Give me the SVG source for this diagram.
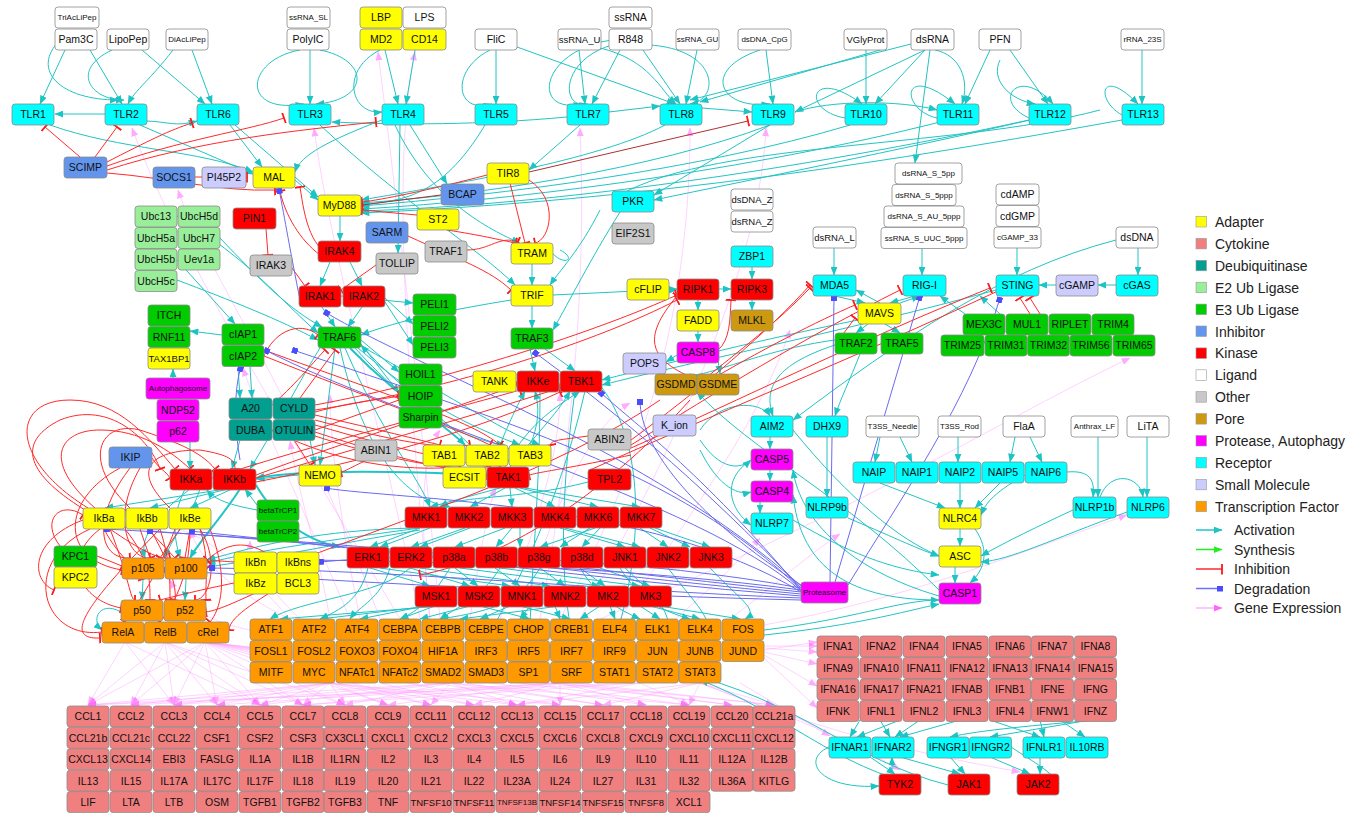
<svg xmlns="http://www.w3.org/2000/svg" width="1358" height="813" viewBox="0 0 1358 813">
<style>
.n rect{rx:3px;ry:3px;stroke:#8c8c8c;stroke-width:0.8}
.n text{font-family:"Liberation Sans",Arial,sans-serif;font-size:10.5px;text-anchor:middle;fill:#111}
.s text{font-size:8px}
.m text{font-size:9.5px}
.li rect{fill:#fff}
.ad rect{fill:#FFFF00}
.cy rect{fill:#F08080}
.db rect{fill:#009F8F}
.e2 rect{fill:#99EE99}
.e3 rect{fill:#00CC00}
.in rect{fill:#6495ED}
.ki rect{fill:#FF0000}
.ot rect{fill:#C8C8C8}
.po rect{fill:#CC9910}
.pr rect{fill:#FF00FF}
.rc rect{fill:#00FFFF}
.sm rect{fill:#CCCCFF}
.tf rect{fill:#FF9900}
.a{stroke:#22C4C4;stroke-width:1;fill:none;marker-end:url(#ma)}
.a2{stroke:#22C4C4;stroke-width:2;fill:none;marker-end:url(#ma)}
.i{stroke:#FF2A2A;stroke-width:1;fill:none;marker-end:url(#mi)}
.ir{stroke:#B03030;stroke-width:1;fill:none;marker-end:url(#mi)}
.d{stroke:#6A6AF0;stroke-width:1;fill:none;marker-end:url(#md)}
.g{stroke:#FF9CFF;stroke-width:0.8;fill:none;marker-end:url(#mg);opacity:0.55}
.lg text{font-family:"Liberation Sans",Arial,sans-serif;font-size:14px;fill:#222}
.lg rect{stroke:#999;stroke-width:0.6}
</style>
<defs>
<marker id="ma" viewBox="0 0 10 8" refX="9.5" refY="4" markerWidth="9" markerHeight="7" orient="auto" markerUnits="userSpaceOnUse"><path d="M0,0 L10,4 L0,8 z" fill="#1CC4C4"/></marker>
<marker id="mi" viewBox="0 0 4 12" refX="3" refY="6" markerWidth="4" markerHeight="11" orient="auto" markerUnits="userSpaceOnUse"><path d="M3,0 V12" stroke="#FF1A1A" stroke-width="2"/></marker>
<marker id="md" viewBox="0 0 6 6" refX="5" refY="3" markerWidth="6" markerHeight="6" orient="auto" markerUnits="userSpaceOnUse"><rect width="6" height="6" fill="#4C4CFF"/></marker>
<marker id="mg" viewBox="0 0 10 8" refX="9.5" refY="4" markerWidth="9" markerHeight="7" orient="auto" markerUnits="userSpaceOnUse"><path d="M0,0 L10,4 L0,8 z" fill="#FF66FF"/></marker>
<marker id="ms" viewBox="0 0 10 8" refX="9.5" refY="4" markerWidth="9" markerHeight="7" orient="auto" markerUnits="userSpaceOnUse"><path d="M0,0 L10,4 L0,8 z" fill="#22EE22"/></marker>
</defs>
<rect width="1358" height="813" fill="#fff"/>

<g id="connectors">
<g id="gene-expression">
<path class="g" d="M205 642 L88 705"/><path class="g" d="M205 642 L131 705"/><path class="g" d="M205 642 L174 705"/><path class="g" d="M205 642 L217 705"/><path class="g" d="M205 642 L260 705"/><path class="g" d="M205 642 L303 705"/><path class="g" d="M205 642 L345 705"/><path class="g" d="M205 642 L388 705"/><path class="g" d="M205 642 L431 705"/><path class="g" d="M205 642 L474 705"/><path class="g" d="M205 642 L517 705"/><path class="g" d="M205 642 L560 705"/><path class="g" d="M205 642 L603 705"/><path class="g" d="M205 642 L646 705"/><path class="g" d="M205 642 L689 705"/><path class="g" d="M205 642 L732 705"/><path class="g" d="M205 642 L774 705"/>
<path class="g" d="M165 642 L88 705"/><path class="g" d="M165 642 L131 705"/><path class="g" d="M165 642 L174 705"/><path class="g" d="M165 642 L217 705"/><path class="g" d="M165 642 L260 705"/><path class="g" d="M165 642 L303 705"/><path class="g" d="M165 642 L345 705"/><path class="g" d="M125 642 L88 705"/><path class="g" d="M125 642 L174 705"/><path class="g" d="M125 642 L260 705"/>
<path class="g" d="M330 683 L88 705"/><path class="g" d="M330 683 L131 705"/><path class="g" d="M330 683 L174 705"/><path class="g" d="M330 683 L217 705"/><path class="g" d="M330 683 L260 705"/><path class="g" d="M330 683 L303 705"/><path class="g" d="M330 683 L345 705"/><path class="g" d="M330 683 L388 705"/><path class="g" d="M330 683 L431 705"/><path class="g" d="M330 683 L474 705"/><path class="g" d="M330 683 L517 705"/><path class="g" d="M330 683 L560 705"/>
<path class="g" d="M450 683 L88 705"/><path class="g" d="M450 683 L174 705"/><path class="g" d="M450 683 L260 705"/><path class="g" d="M450 683 L345 705"/><path class="g" d="M450 683 L431 705"/><path class="g" d="M450 683 L517 705"/><path class="g" d="M450 683 L603 705"/><path class="g" d="M450 683 L689 705"/>
<path class="g" d="M560 683 L131 705"/><path class="g" d="M560 683 L217 705"/><path class="g" d="M560 683 L303 705"/><path class="g" d="M560 683 L388 705"/><path class="g" d="M560 683 L474 705"/><path class="g" d="M560 683 L560 705"/><path class="g" d="M560 683 L646 705"/><path class="g" d="M560 683 L732 705"/><path class="g" d="M560 683 L774 705"/>
<path class="g" d="M640 683 L88 705"/><path class="g" d="M640 683 L303 705"/><path class="g" d="M640 683 L517 705"/><path class="g" d="M640 683 L689 705"/>
<path class="g" d="M700 683 L603 705"/><path class="g" d="M700 683 L689 705"/><path class="g" d="M700 683 L774 705"/><path class="g" d="M700 683 L517 705"/>
<path class="g" d="M764 650 L817 642"/><path class="g" d="M764 652 L817 664"/><path class="g" d="M764 655 L817 686"/><path class="g" d="M764 658 L817 708"/><path class="g" d="M764 646 L817 646"/><path class="g" d="M764 648 L817 652"/><path class="g" d="M740 683 L830 736"/><path class="g" d="M700 683 C800 720,850 740,900 770"/><path class="g" d="M700 683 C820 730,900 750,1020 772"/>
<path class="g" d="M400 619 C300 450,180 260,132 128"/><path class="g" d="M420 619 C380 420,330 250,314 128"/><path class="g" d="M380 619 C300 400,200 260,178 190"/><path class="g" d="M430 619 C400 300,395 150,415 52"/><path class="g" d="M440 619 C410 300,390 150,378 52"/>
<path class="g" d="M540 619 C580 400,585 250,580 128"/><path class="g" d="M560 619 C650 450,690 300,690 128"/><path class="g" d="M580 619 C700 400,760 250,766 128"/><path class="g" d="M600 619 C880 500,1000 420,1130 358"/><path class="g" d="M764 625 C900 600,1000 560,1127 515"/><path class="g" d="M620 619 C700 500,760 420,790 330"/>
<path class="g" d="M300 619 C260 580,250 560,250 541"/><path class="g" d="M290 619 C230 590,200 560,190 530"/><path class="g" d="M290 619 C220 540,180 520,150 530"/><path class="g" d="M330 619 C320 560,300 500,290 441"/><path class="g" d="M350 619 C300 500,260 420,243 368"/><path class="g" d="M470 619 C480 550,490 500,496 488"/><path class="g" d="M500 619 C540 520,560 450,560 393"/><path class="g" d="M520 619 C560 480,600 420,630 403"/>
<path class="g" d="M700 640 C760 600,800 560,840 534"/><path class="g" d="M650 640 C700 600,740 560,760 538"/><path class="g" d="M250 630 C200 620,180 600,170 580"/><path class="g" d="M360 619 C340 520,330 440,330 395"/><path class="g" d="M430 619 C420 520,420 460,440 430"/>
</g>
<g id="activation">
<path class="a" d="M65 50 L40 104"/><path class="a" d="M90 50 L122 104"/><path class="a" d="M60 40 C30 70,60 100,118 100"/><path class="a" d="M112 50 C70 70,90 100,124 100"/><path class="a" d="M142 50 L205 104"/><path class="a" d="M192 50 L212 104"/><path class="a" d="M173 50 C150 80,135 90,128 104"/>
<path class="a" d="M310 50 L310 104"/><path class="a" d="M300 50 C245 60,240 115,304 104"/><path class="a" d="M320 50 C370 60,370 100,316 104"/>
<path class="a" d="M385 50 L398 104"/><path class="a" d="M415 50 L406 104"/><path class="a" d="M380 50 C340 70,350 115,382 112"/>
<path class="a" d="M496 50 L496 104"/><path class="a" d="M490 50 C450 70,455 115,492 104"/><path class="a" d="M517 47 L675 104"/>
<path class="a" d="M579 50 L585 104"/><path class="a" d="M620 50 L592 104"/><path class="a" d="M643 50 L680 104"/><path class="a" d="M697 50 L686 104"/><path class="a" d="M612 40 C540 50,530 115,582 104"/><path class="a" d="M612 45 C560 60,560 110,588 104"/><path class="a" d="M650 45 C720 50,720 100,690 104"/><path class="a" d="M600 48 C650 60,660 90,676 104"/>
<path class="a" d="M766 50 L773 104"/><path class="a" d="M760 50 C700 70,720 110,770 104"/><path class="a" d="M866 50 L866 104"/><path class="a" d="M925 50 L875 104"/><path class="a" d="M935 50 C960 55,970 80,962 104"/><path class="a" d="M990 50 L965 104"/><path class="a" d="M1010 50 L1048 104"/><path class="a" d="M911 44 L690 100"/><path class="a" d="M887 48 L700 102"/><path class="a" d="M925 50 L795 112"/><path class="a" d="M1142 50 L1142 104"/>
<path class="a" d="M845 118 C800 110,810 65,862 104"/><path class="a" d="M937 118 C900 110,900 60,955 104"/><path class="a" d="M1029 118 C990 100,1020 65,1053 104"/><path class="a" d="M1122 115 C1095 100,1100 65,1138 104"/><path class="a" d="M1000 60 C990 80,1010 100,1035 104"/>
<path class="a" d="M105 114 L55 114"/><path class="a" d="M147 121 C170 122,175 127,197 121"/><path class="a" d="M567 117 C480 125,400 125,332 122"/><path class="a" d="M609 112 L660 106"/><path class="a" d="M702 108 L752 112"/><path class="a" d="M795 112 C830 100,900 100,937 110"/>
<path class="a" d="M50 125 C120 150,200 150,253 172"/><path class="a" d="M140 125 L253 174"/><path class="a" d="M230 125 L262 167"/><path class="a" d="M235 125 L318 197"/><path class="a" d="M320 125 C400 200,480 250,515 285"/><path class="a" d="M382 120 C330 140,300 155,295 172"/><path class="a" d="M410 125 L447 184"/><path class="a" d="M400 125 L398 253"/><path class="a" d="M395 125 C430 200,490 230,520 243"/>
<path class="a" d="M485 125 C440 200,400 200,361 205"/><path class="a" d="M580 125 L529 170"/><path class="a" d="M665 125 C600 160,450 185,361 200"/><path class="a" d="M770 125 C650 170,480 195,361 203"/><path class="a" d="M850 125 C700 170,500 195,361 206"/><path class="a" d="M940 122 C750 170,520 200,361 209"/><path class="a" d="M1029 120 C800 170,550 205,361 211"/><path class="a" d="M1122 120 C900 160,650 200,361 213"/><path class="a" d="M770 125 L654 195"/><path class="a" d="M1030 120 C900 150,750 180,654 200"/><path class="a" d="M1100 110 C950 150,700 140,612 200"/><path class="a" d="M930 50 L915 163"/>
<path class="a" d="M295 180 L318 200"/><path class="a" d="M340 215 L340 241"/><path class="a" d="M330 262 L320 286"/><path class="a" d="M350 262 L362 286"/><path class="a" d="M322 307 L335 327"/><path class="a" d="M362 307 L348 327"/><path class="a" d="M341 296 L413 303"/><path class="a" d="M385 298 L413 324"/><path class="a" d="M385 302 L413 345"/><path class="a" d="M361 340 L399 372"/><path class="a" d="M361 344 L399 393"/>
<path class="a2" d="M350 348 C400 400,440 420,465 445"/><path class="a" d="M335 348 L320 465"/><path class="a" d="M177 216 C250 260,280 300,318 333"/><path class="a" d="M177 260 L235 324"/><path class="a" d="M177 280 C230 300,280 320,318 340"/><path class="a" d="M220 238 C260 280,290 310,322 327"/><path class="a" d="M222 335 L190 331"/><path class="a" d="M238 367 L240 398"/><path class="a" d="M250 367 L252 398"/><path class="a" d="M240 440 L232 469"/><path class="a" d="M173 378 L173 369"/><path class="a" d="M190 442 L190 469"/><path class="a" d="M310 440 L315 465"/>
<path class="a" d="M355 348 C420 420,470 440,505 445"/><path class="a" d="M358 348 C430 410,480 430,520 445"/><path class="a" d="M345 348 C380 430,420 480,430 507"/><path class="a" d="M340 348 C360 440,400 500,450 507"/><path class="a" d="M361 346 C440 390,500 430,540 445"/><path class="a" d="M320 348 C300 380,280 420,250 469"/>
<path class="a" d="M532 263 L532 285"/><path class="a" d="M532 306 L532 328"/><path class="a" d="M545 349 L575 371"/><path class="a" d="M530 349 L535 371"/><path class="a" d="M553 295 L677 289"/><path class="a" d="M511 300 C450 310,400 320,361 335"/><path class="a" d="M600 210 C580 250,560 270,550 285"/><path class="a" d="M620 212 C590 260,570 300,553 330"/><path class="a" d="M560 250 C580 260,560 270,545 243"/>
<path class="a" d="M585 391 C560 500,520 580,486 640"/><path class="a" d="M575 391 C560 500,560 580,573 640"/><path class="a" d="M540 391 C540 500,530 580,530 640"/><path class="a" d="M600 385 C650 450,640 560,615 640"/>
<path class="a" d="M500 488 L430 507"/><path class="a" d="M505 488 L470 507"/><path class="a" d="M510 488 L512 507"/><path class="a" d="M515 488 L555 507"/><path class="a" d="M520 488 L598 507"/><path class="a" d="M525 488 L640 507"/><path class="a2" d="M487 475 C380 470,300 470,256 478"/><path class="a" d="M490 466 C450 420,400 390,361 345"/><path class="a" d="M520 466 C540 430,540 410,535 391"/><path class="a" d="M500 445 C510 420,520 400,525 391"/><path class="a" d="M510 467 C540 430,560 410,570 391"/><path class="a" d="M505 467 C530 420,560 405,580 391"/>
<path class="a" d="M420 528 L370 547"/><path class="a" d="M465 528 L411 547"/><path class="a" d="M505 528 L455 547"/><path class="a" d="M512 528 L496 547"/><path class="a" d="M595 528 L540 547"/><path class="a" d="M600 528 L582 547"/><path class="a" d="M560 528 L625 547"/><path class="a" d="M640 528 L668 547"/><path class="a" d="M655 528 L710 547"/><path class="a" d="M588 482 C520 500,460 495,440 507"/><path class="a" d="M430 528 L380 547"/><path class="a" d="M470 528 L420 547"/><path class="a" d="M520 528 L520 547"/><path class="a" d="M590 528 L560 547"/><path class="a" d="M565 528 L640 547"/><path class="a" d="M650 528 L690 547"/>
<path class="a" d="M370 568 L430 586"/><path class="a" d="M455 568 L478 586"/><path class="a" d="M495 568 L520 586"/><path class="a" d="M540 568 L565 586"/><path class="a" d="M580 568 L605 586"/><path class="a" d="M600 568 L650 586"/><path class="a" d="M410 568 L470 586"/><path class="a" d="M380 568 L510 586"/><path class="a" d="M420 568 L550 586"/><path class="a" d="M460 568 L600 586"/><path class="a" d="M500 568 L640 586"/>
<path class="a" d="M435 606 L400 619"/><path class="a" d="M480 606 L530 619"/><path class="a" d="M520 606 L570 619"/><path class="a" d="M560 606 L460 619"/><path class="a" d="M610 606 L615 619"/><path class="a" d="M650 606 L700 619"/><path class="a" d="M368 568 C360 600,340 610,320 619"/><path class="a" d="M410 568 C380 595,300 600,270 619"/><path class="a" d="M625 568 C660 600,680 620,660 641"/><path class="a" d="M668 568 C700 610,720 625,700 641"/><path class="a" d="M710 568 C740 600,760 610,745 619"/><path class="a" d="M450 568 C430 600,420 610,400 619"/><path class="a" d="M540 568 C520 600,500 610,440 619"/><path class="a" d="M580 568 C600 600,620 610,640 619"/>
<path class="a" d="M425 606 L360 619"/><path class="a" d="M430 606 L320 619"/><path class="a" d="M440 606 L280 619"/><path class="a" d="M470 606 L420 619"/><path class="a" d="M510 606 L480 619"/><path class="a" d="M530 606 L520 619"/><path class="a" d="M555 606 L560 619"/><path class="a" d="M600 606 L580 619"/><path class="a" d="M640 606 L660 619"/><path class="a" d="M660 606 L740 619"/><path class="a" d="M390 568 C380 600,360 605,350 619"/><path class="a" d="M500 568 C480 600,460 605,440 619"/><path class="a" d="M620 568 C640 600,660 610,690 619"/>
<path class="a" d="M225 489 L105 508"/><path class="a" d="M228 489 L150 508"/><path class="a" d="M232 489 L190 508"/><path class="a" d="M185 489 C170 520,175 540,180 558"/><path class="a" d="M257 505 L245 489"/><path class="a" d="M257 510 C230 505,215 500,207 490"/><path class="a" d="M299 475 L256 479"/><path class="a2" d="M240 489 C220 520,200 540,190 558"/><path class="a2" d="M256 485 C270 510,300 540,340 547"/><path class="a" d="M190 489 C150 520,140 540,145 558"/><path class="a" d="M200 489 C190 520,170 540,165 558"/><path class="a" d="M420 528 C330 540,260 550,207 563"/><path class="a" d="M420 530 C330 545,260 560,207 567"/><path class="a" d="M415 528 C320 530,260 545,207 560"/>
<path class="a" d="M143 579 L142 600"/><path class="a" d="M186 579 L185 600"/><path class="a" d="M121 612 C100 600,90 620,102 630"/>
<path class="a" d="M835 296 L865 303"/><path class="a" d="M915 296 L890 303"/><path class="a" d="M868 324 L856 333"/><path class="a" d="M885 324 L900 333"/><path class="a" d="M858 320 C760 340,680 360,602 380"/><path class="a" d="M996 290 C850 330,700 360,602 385"/><path class="a" d="M1116 285 L1098 285"/><path class="a" d="M1056 285 L1039 285"/><path class="a" d="M1138 248 L1138 275"/><path class="a" d="M1116 240 C1000 270,900 340,793 420"/><path class="a" d="M834 248 L834 275"/><path class="a" d="M922 248 L922 275"/><path class="a" d="M1017 248 L1017 275"/><path class="a" d="M965 314 L940 296"/><path class="a" d="M1000 314 L980 296"/><path class="a" d="M880 303 L856 290"/><path class="a" d="M900 303 L920 296"/>
<path class="a" d="M752 267 L752 279"/><path class="a" d="M752 300 L752 310"/><path class="a" d="M698 300 L698 310"/><path class="a" d="M698 331 L698 342"/><path class="a" d="M718 360 L720 374"/><path class="a" d="M668 290 L677 290"/><path class="a" d="M677 355 L666 362"/><path class="a" d="M719 289 L731 289"/><path class="a" d="M835 340 C760 350,700 380,690 374"/><path class="a" d="M835 345 C790 360,760 380,773 416"/><path class="a" d="M860 354 C850 380,840 400,835 416"/>
<path class="a" d="M793 430 C850 500,900 540,939 556"/><path class="a" d="M770 437 L770 449"/><path class="a" d="M770 470 L770 481"/><path class="a" d="M760 502 L760 513"/><path class="a" d="M827 437 L827 497"/><path class="a" d="M751 460 C720 480,730 510,751 525"/><path class="a" d="M700 430 C720 400,760 400,770 416"/><path class="a" d="M700 440 C720 470,740 470,751 460"/><path class="a" d="M700 450 C720 490,740 495,751 492"/>
<path class="a" d="M880 483 L945 508"/><path class="a" d="M960 483 L960 508"/><path class="a" d="M1000 483 L975 508"/><path class="a" d="M960 529 L960 546"/><path class="a" d="M955 567 L955 583"/><path class="a" d="M975 529 C990 550,985 570,970 583"/><path class="a" d="M880 437 L875 462"/><path class="a" d="M900 437 L912 462"/><path class="a" d="M958 437 L958 462"/><path class="a" d="M1015 437 L1010 462"/><path class="a" d="M1030 437 L1042 462"/><path class="a" d="M1098 437 L1098 497"/><path class="a" d="M1147 437 L1147 497"/><path class="a" d="M1067 472 C1090 470,1095 480,1093 497"/><path class="a" d="M1100 497 C1110 470,1140 475,1143 497"/><path class="a" d="M1073 510 C1030 530,1000 545,981 556"/><path class="a" d="M1127 512 C1050 540,1010 560,981 562"/><path class="a" d="M1025 475 C990 495,985 505,981 515"/>
<path class="a" d="M939 590 C850 500,750 450,697 392"/><path class="a" d="M939 596 C850 570,800 520,793 470"/><path class="a" d="M939 600 C840 600,800 560,793 495"/><path class="a" d="M848 518 C900 540,920 550,939 556"/><path class="a" d="M793 520 C860 560,900 570,939 575"/>
<path class="a" d="M860 720 L850 737"/><path class="a" d="M880 720 L890 737"/><path class="a" d="M900 720 L857 737"/><path class="a" d="M920 720 L895 737"/><path class="a" d="M960 720 L900 737"/><path class="a" d="M1095 720 C1040 725,980 730,950 737"/><path class="a" d="M1090 720 L990 737"/><path class="a" d="M990 720 L1040 737"/><path class="a" d="M1060 720 L1085 737"/><path class="a" d="M1040 720 L1044 737"/>
<path class="a" d="M870 757 L895 774"/><path class="a" d="M900 757 L960 774"/><path class="a" d="M950 757 L965 774"/><path class="a" d="M990 757 L1030 774"/><path class="a" d="M1040 757 L1040 774"/><path class="a" d="M892 774 L892 757"/><path class="a" d="M948 785 C850 760,800 700,680 672"/><path class="a" d="M921 785 C840 770,780 710,700 680"/><path class="a" d="M829 747 C800 760,820 790,879 786"/><path class="a" d="M1011 747 C1030 760,1050 770,1059 784"/>
<path class="a" d="M764 630 C850 620,900 600,939 600"/><path class="a" d="M764 635 C860 625,910 610,939 604"/>
</g>
<g id="inhibition">
<path class="i" d="M80 157 L45 127"/><path class="i" d="M95 157 L117 127"/><path class="i" d="M105 163 C150 140,170 130,192 123"/><path class="i" d="M107 166 C180 140,250 130,284 118"/><path class="i" d="M107 170 C200 140,300 130,376 122"/><path class="i" d="M107 173 C170 178,220 192,275 190"/><path class="i" d="M195 177 L247 177"/>
<path class="ir" d="M529 172 L748 121"/><path class="i" d="M510 183 L525 243"/><path class="i" d="M487 175 C430 190,380 200,362 202"/><path class="ir" d="M441 195 L362 205"/><path class="i" d="M417 215 L362 210"/><path class="i" d="M447 230 C480 235,500 240,516 243"/><path class="i" d="M467 250 C490 250,500 235,518 242"/><path class="i" d="M408 236 C460 260,490 270,511 290"/><path class="i" d="M529 180 C560 200,550 240,535 243"/>
<path class="i" d="M266 229 L268 255"/><path class="i" d="M292 268 L305 286"/><path class="i" d="M376 265 L341 290"/><path class="i" d="M320 255 C300 240,285 215,280 191"/><path class="i" d="M340 262 C310 250,305 220,300 187"/>
<path class="i" d="M272 405 C300 380,315 360,325 350"/><path class="i" d="M300 398 L335 350"/><path class="i" d="M315 412 C360 400,380 400,399 396"/><path class="i" d="M315 430 L399 400"/><path class="i" d="M294 440 L310 465"/><path class="i" d="M260 367 C270 330,300 320,318 335"/>
<path class="i" d="M315 415 C380 430,420 440,440 445"/><path class="i" d="M315 420 C390 440,440 450,470 445"/><path class="i" d="M315 425 C400 450,450 460,490 467"/><path class="i" d="M315 432 C400 460,450 470,487 475"/><path class="i" d="M315 436 C420 470,470 470,500 467"/><path class="i" d="M272 430 C350 470,420 470,460 467"/>
<path class="i" d="M152 458 C160 470,165 470,170 478"/><path class="i" d="M120 468 C60 500,60 560,122 570"/><path class="i" d="M130 468 C90 520,100 560,130 558"/><path class="i" d="M140 468 C110 520,130 560,150 558"/>
<path class="i" d="M100 529 C60 560,80 600,121 608"/><path class="i" d="M104 529 C120 560,140 570,143 579"/><path class="i" d="M110 529 C140 550,160 560,170 558"/><path class="i" d="M140 529 L150 558"/><path class="i" d="M148 529 L175 558"/><path class="i" d="M190 529 L185 558"/><path class="i" d="M180 529 L160 558"/><path class="i" d="M90 529 C20 560,40 640,102 632"/><path class="i" d="M110 529 C130 580,130 600,135 600"/><path class="i" d="M150 529 C180 580,175 600,175 600"/><path class="i" d="M200 529 C220 560,210 600,195 600"/><path class="i" d="M85 510 C20 470,20 440,60 420 C110 400,150 440,160 469"/><path class="i" d="M95 508 C40 460,60 430,100 430 C140 430,170 450,190 469"/><path class="i" d="M234 562 C210 560,200 560,207 568"/><path class="i" d="M234 583 C200 590,180 595,160 600"/><path class="i" d="M277 583 C240 600,220 610,206 612"/><path class="i" d="M60 546 C40 520,60 500,83 515"/><path class="i" d="M97 556 L122 566"/>
<path class="i" d="M88 508 C10 460,10 400,70 400 C120 400,150 440,175 469"/><path class="i" d="M130 508 C80 460,100 420,140 430 C170 440,200 450,215 469"/><path class="i" d="M170 508 C130 470,150 450,200 450 C230 455,235 460,235 469"/><path class="i" d="M125 529 C150 560,150 580,150 600"/><path class="i" d="M160 529 C170 560,170 580,170 600"/><path class="i" d="M200 529 C210 560,205 580,206 600"/><path class="i" d="M175 529 C160 570,140 600,125 622"/><path class="i" d="M190 529 C190 580,170 610,160 622"/><path class="i" d="M210 529 C230 580,220 610,210 622"/><path class="i" d="M300 573 C260 600,230 615,229 630"/><path class="i" d="M277 560 C250 540,230 540,207 560"/><path class="i" d="M83 520 C30 540,30 580,54 590"/><path class="i" d="M160 529 C90 600,60 640,100 638"/>
<path class="i" d="M256 475 C350 440,450 410,517 385"/><path class="i" d="M256 478 C350 450,460 420,560 388"/><path class="i" d="M256 482 C370 460,480 430,560 392"/><path class="i" d="M212 478 C330 440,450 410,520 390"/><path class="i" d="M315 405 C450 380,600 330,677 295"/><path class="i" d="M315 410 C450 390,600 340,677 300"/><path class="i" d="M264 350 C400 400,470 420,500 445"/><path class="i" d="M264 356 C400 410,460 430,490 445"/>
<path class="i" d="M631 440 C700 390,770 330,810 285"/><path class="i" d="M631 445 C720 390,800 340,900 290"/><path class="i" d="M631 448 C740 400,860 340,990 288"/><path class="i" d="M590 470 C700 420,850 360,1000 290"/><path class="i" d="M697 385 C740 350,780 320,810 288"/><path class="i" d="M697 388 C760 350,820 320,855 305"/><path class="i" d="M1030 314 L1020 298"/><path class="i" d="M1040 314 L1030 298"/><path class="i" d="M835 345 L855 318"/><path class="i" d="M697 380 C650 360,640 340,677 296"/><path class="i" d="M718 350 C730 340,730 320,731 300"/>
<path class="i" d="M631 455 C560 470,550 470,529 475"/><path class="i" d="M588 436 C560 440,550 440,551 445"/><path class="i" d="M397 450 C360 460,350 470,341 472"/><path class="i" d="M660 400 C560 470,400 520,300 560"/><path class="i" d="M690 400 C600 500,500 560,420 575"/>
</g>
<g id="degradation">
<path class="d" d="M801 592 C600 570,400 545,105 529"/><path class="d" d="M801 594 C600 575,400 548,148 531"/><path class="d" d="M801 596 C600 580,400 552,190 531"/><path class="d" d="M801 598 C600 590,400 570,210 568"/><path class="d" d="M801 600 C600 595,400 585,164 570"/><path class="d" d="M801 590 C650 570,450 560,277 560"/><path class="d" d="M801 588 C650 560,450 550,319 562"/>
<path class="d" d="M830 582 L834 296"/><path class="d" d="M835 582 L920 296"/><path class="d" d="M848 585 C900 500,970 400,1000 298"/><path class="d" d="M801 585 C700 520,640 450,640 400"/>
<path class="d" d="M300 300 C290 250,285 220,279 189"/><path class="d" d="M801 588 C700 480,600 400,534 352"/><path class="d" d="M801 590 C700 470,630 420,600 392"/><path class="d" d="M801 592 C650 500,400 500,325 488"/><path class="d" d="M801 586 C650 450,420 370,325 312"/><path class="d" d="M801 590 C680 470,500 420,293 350"/><path class="d" d="M801 591 C700 500,400 420,265 350"/><path class="d" d="M240 460 C230 400,240 370,241 367"/><path class="d" d="M760 280 L740 289"/>
</g>
</g>

<g id="nodes">
<g id="TriAcLiPep" class="n li s"><rect x="55" y="7" width="44" height="21"/><text x="77" y="20.4">TriAcLiPep</text></g>
<g id="Pam3C" class="n li"><rect x="55" y="29" width="42" height="21"/><text x="76" y="43.3">Pam3C</text></g>
<g id="LipoPep" class="n li"><rect x="107" y="29" width="42" height="21"/><text x="128" y="43.3">LipoPep</text></g>
<g id="DiAcLiPep" class="n li s"><rect x="166" y="29" width="42" height="21"/><text x="187" y="42.4">DiAcLiPep</text></g>
<g id="ssRNA_SL" class="n li s"><rect x="287" y="7" width="43" height="21"/><text x="308.5" y="20.4">ssRNA_SL</text></g>
<g id="PolyIC" class="n li"><rect x="287" y="29" width="42" height="21"/><text x="308" y="43.3">PolyIC</text></g>
<g id="LBP" class="n ad"><rect x="360" y="7" width="42" height="21"/><text x="381" y="21.3">LBP</text></g>
<g id="LPS" class="n li"><rect x="403" y="7" width="43" height="21"/><text x="424.5" y="21.3">LPS</text></g>
<g id="MD2" class="n ad"><rect x="360" y="29" width="42" height="21"/><text x="381" y="43.3">MD2</text></g>
<g id="CD14" class="n ad"><rect x="403" y="29" width="43" height="21"/><text x="424.5" y="43.3">CD14</text></g>
<g id="FliC" class="n li"><rect x="475" y="29" width="42" height="21"/><text x="496" y="43.3">FliC</text></g>
<g id="ssRNA_U" class="n li m"><rect x="558" y="29" width="43" height="21"/><text x="579.5" y="43">ssRNA_U</text></g>
<g id="ssRNA" class="n li"><rect x="609" y="7" width="43" height="21"/><text x="630.5" y="21.3">ssRNA</text></g>
<g id="R848" class="n li"><rect x="609" y="29" width="43" height="21"/><text x="630.5" y="43.3">R848</text></g>
<g id="ssRNA_GU" class="n li s"><rect x="676" y="29" width="43" height="21"/><text x="697.5" y="42.4">ssRNA_GU</text></g>
<g id="dsDNA_CpG" class="n li s"><rect x="738" y="29" width="53" height="21"/><text x="764.5" y="42.4">dsDNA_CpG</text></g>
<g id="VGlyProt" class="n li m"><rect x="844" y="29" width="43" height="21"/><text x="865.5" y="43">VGlyProt</text></g>
<g id="dsRNA" class="n li"><rect x="911" y="29" width="43" height="21"/><text x="932.5" y="43.3">dsRNA</text></g>
<g id="PFN" class="n li"><rect x="979" y="29" width="42" height="21"/><text x="1000" y="43.3">PFN</text></g>
<g id="rRNA_23S" class="n li s"><rect x="1121" y="29" width="43" height="21"/><text x="1142.5" y="42.4">rRNA_23S</text></g>

<g id="TLR1" class="n rc"><rect x="12" y="104" width="42" height="21"/><text x="33" y="118.3">TLR1</text></g>
<g id="TLR2" class="n rc"><rect x="105" y="104" width="42" height="21"/><text x="126" y="118.3">TLR2</text></g>
<g id="TLR6" class="n rc"><rect x="197" y="104" width="42" height="21"/><text x="218" y="118.3">TLR6</text></g>
<g id="TLR3" class="n rc"><rect x="289" y="104" width="42" height="21"/><text x="310" y="118.3">TLR3</text></g>
<g id="TLR4" class="n rc"><rect x="382" y="104" width="42" height="21"/><text x="403" y="118.3">TLR4</text></g>
<g id="TLR5" class="n rc"><rect x="475" y="104" width="42" height="21"/><text x="496" y="118.3">TLR5</text></g>
<g id="TLR7" class="n rc"><rect x="567" y="104" width="42" height="21"/><text x="588" y="118.3">TLR7</text></g>
<g id="TLR8" class="n rc"><rect x="660" y="104" width="42" height="21"/><text x="681" y="118.3">TLR8</text></g>
<g id="TLR9" class="n rc"><rect x="752" y="104" width="42" height="21"/><text x="773" y="118.3">TLR9</text></g>
<g id="TLR10" class="n rc"><rect x="845" y="104" width="42" height="21"/><text x="866" y="118.3">TLR10</text></g>
<g id="TLR11" class="n rc"><rect x="937" y="104" width="42" height="21"/><text x="958" y="118.3">TLR11</text></g>
<g id="TLR12" class="n rc"><rect x="1029" y="104" width="42" height="21"/><text x="1050" y="118.3">TLR12</text></g>
<g id="TLR13" class="n rc"><rect x="1122" y="104" width="42" height="21"/><text x="1143" y="118.3">TLR13</text></g>

<g id="SCIMP" class="n in"><rect x="64" y="157" width="43" height="21"/><text x="85.5" y="171.3">SCIMP</text></g>
<g id="SOCS1" class="n in"><rect x="153" y="167" width="42" height="21"/><text x="174" y="181.3">SOCS1</text></g>
<g id="PI45P2" class="n sm"><rect x="202" y="167" width="44" height="21"/><text x="224" y="181.3">PI45P2</text></g>
<g id="MAL" class="n ad"><rect x="253" y="167" width="42" height="21"/><text x="274" y="181.3">MAL</text></g>
<g id="TIR8" class="n ad"><rect x="487" y="163" width="42" height="21"/><text x="508" y="177.3">TIR8</text></g>
<g id="BCAP" class="n in"><rect x="441" y="184" width="43" height="21"/><text x="462.5" y="198.3">BCAP</text></g>
<g id="PKR" class="n rc"><rect x="612" y="191" width="42" height="21"/><text x="633" y="205.3">PKR</text></g>
<g id="MyD88" class="n ad"><rect x="318" y="195" width="43" height="21"/><text x="339.5" y="209.3">MyD88</text></g>
<g id="dsDNA_Z" class="n li m"><rect x="731" y="189" width="42" height="21"/><text x="752" y="203">dsDNA_Z</text></g>
<g id="dsRNA_Z" class="n li m"><rect x="731" y="211" width="42" height="21"/><text x="752" y="225">dsRNA_Z</text></g>
<g id="ZBP1" class="n rc"><rect x="731" y="246" width="42" height="21"/><text x="752" y="260.3">ZBP1</text></g>
<g id="PIN1" class="n ki"><rect x="233" y="208" width="43" height="21"/><text x="254.5" y="222.3">PIN1</text></g>
<g id="ST2" class="n ad"><rect x="417" y="209" width="42" height="21"/><text x="438" y="223.3">ST2</text></g>
<g id="SARM" class="n in"><rect x="366" y="222" width="42" height="21"/><text x="387" y="236.3">SARM</text></g>
<g id="EIF2S1" class="n ot"><rect x="612" y="223" width="42" height="21"/><text x="633" y="237.3">EIF2S1</text></g>
<g id="TRAF1" class="n ot"><rect x="425" y="241" width="42" height="21"/><text x="446" y="255.3">TRAF1</text></g>
<g id="TRAM" class="n ad"><rect x="511" y="243" width="42" height="21"/><text x="532" y="257.3">TRAM</text></g>
<g id="IRAK4" class="n ki"><rect x="318" y="241" width="43" height="21"/><text x="339.5" y="255.3">IRAK4</text></g>
<g id="TOLLIP" class="n ot"><rect x="376" y="253" width="42" height="21"/><text x="397" y="267.3">TOLLIP</text></g>
<g id="IRAK3" class="n ot"><rect x="250" y="255" width="42" height="21"/><text x="271" y="269.3">IRAK3</text></g>
<g id="Ubc13" class="n e2"><rect x="135" y="206" width="42" height="21"/><text x="156" y="220.3">Ubc13</text></g>
<g id="UbcH5d" class="n e2"><rect x="178" y="206" width="42" height="21"/><text x="199" y="220.3">UbcH5d</text></g>
<g id="UbcH5a" class="n e2"><rect x="135" y="227.5" width="42" height="21"/><text x="156" y="241.8">UbcH5a</text></g>
<g id="UbcH7" class="n e2"><rect x="178" y="227.5" width="42" height="21"/><text x="199" y="241.8">UbcH7</text></g>
<g id="UbcH5b" class="n e2"><rect x="135" y="249" width="42" height="21"/><text x="156" y="263.3">UbcH5b</text></g>
<g id="Uev1a" class="n e2"><rect x="178" y="249" width="42" height="21"/><text x="199" y="263.3">Uev1a</text></g>
<g id="UbcH5c" class="n e2"><rect x="135" y="270.5" width="42" height="21"/><text x="156" y="284.8">UbcH5c</text></g>
<g id="IRAK1" class="n ki"><rect x="299" y="286" width="42" height="21"/><text x="320" y="300.3">IRAK1</text></g>
<g id="IRAK2" class="n ki"><rect x="343" y="286" width="42" height="21"/><text x="364" y="300.3">IRAK2</text></g>
<g id="TRIF" class="n ad"><rect x="511" y="285" width="42" height="21"/><text x="532" y="299.3">TRIF</text></g>
<g id="cFLIP" class="n ad"><rect x="627" y="279" width="42" height="21"/><text x="648" y="293.3">cFLIP</text></g>
<g id="RIPK1" class="n ki"><rect x="677" y="279" width="42" height="21"/><text x="698" y="293.3">RIPK1</text></g>
<g id="RIPK3" class="n ki"><rect x="731" y="279" width="42" height="21"/><text x="752" y="293.3">RIPK3</text></g>
<g id="PELI1" class="n e3"><rect x="413" y="294" width="43" height="21"/><text x="434.5" y="308.3">PELI1</text></g>
<g id="PELI2" class="n e3"><rect x="413" y="315.5" width="43" height="21"/><text x="434.5" y="329.8">PELI2</text></g>
<g id="PELI3" class="n e3"><rect x="413" y="337" width="43" height="21"/><text x="434.5" y="351.3">PELI3</text></g>
<g id="ITCH" class="n e3"><rect x="148" y="305" width="42" height="21"/><text x="169" y="319.3">ITCH</text></g>
<g id="RNF11" class="n e3"><rect x="148" y="326.5" width="42" height="21"/><text x="169" y="340.8">RNF11</text></g>
<g id="TAX1BP1" class="n ad m"><rect x="148" y="348" width="42" height="21"/><text x="169" y="362">TAX1BP1</text></g>
<g id="cIAP1" class="n e3"><rect x="222" y="324" width="42" height="21"/><text x="243" y="338.3">cIAP1</text></g>
<g id="cIAP2" class="n e3"><rect x="222" y="345.5" width="42" height="21"/><text x="243" y="359.8">cIAP2</text></g>
<g id="TRAF6" class="n e3"><rect x="318" y="327" width="43" height="21"/><text x="339.5" y="341.3">TRAF6</text></g>
<g id="TRAF3" class="n e3"><rect x="511" y="328" width="42" height="21"/><text x="532" y="342.3">TRAF3</text></g>
<g id="FADD" class="n ad"><rect x="677" y="310" width="42" height="21"/><text x="698" y="324.3">FADD</text></g>
<g id="MLKL" class="n po"><rect x="731" y="310" width="42" height="21"/><text x="752" y="324.3">MLKL</text></g>
<g id="CASP8" class="n pr"><rect x="677" y="342" width="42" height="21"/><text x="698" y="356.3">CASP8</text></g>
<g id="POPS" class="n sm"><rect x="623" y="353" width="43" height="21"/><text x="644.5" y="367.3">POPS</text></g>
<g id="HOIL1" class="n e3"><rect x="399" y="364" width="43" height="21"/><text x="420.5" y="378.3">HOIL1</text></g>
<g id="HOIP" class="n e3"><rect x="399" y="385.5" width="43" height="21"/><text x="420.5" y="399.8">HOIP</text></g>
<g id="Sharpin" class="n e3"><rect x="399" y="407" width="43" height="21"/><text x="420.5" y="421.3">Sharpin</text></g>
<g id="TANK" class="n ad"><rect x="473" y="371" width="43" height="21"/><text x="494.5" y="385.3">TANK</text></g>
<g id="IKKe" class="n ki"><rect x="517" y="371" width="42" height="21"/><text x="538" y="385.3">IKKe</text></g>
<g id="TBK1" class="n ki"><rect x="560" y="371" width="42" height="21"/><text x="581" y="385.3">TBK1</text></g>
<g id="GSDMD" class="n po"><rect x="655" y="374" width="42" height="21"/><text x="676" y="388.3">GSDMD</text></g>
<g id="GSDME" class="n po"><rect x="697" y="374" width="42" height="21"/><text x="718" y="388.3">GSDME</text></g>
<g id="Autophagosome" class="n pr s"><rect x="146" y="378" width="64" height="21"/><text x="178" y="391.4">Autophagosome</text></g>
<g id="NDP52" class="n pr"><rect x="157" y="399.5" width="42" height="21"/><text x="178" y="413.8">NDP52</text></g>
<g id="p62" class="n pr"><rect x="157" y="421" width="42" height="21"/><text x="178" y="435.3">p62</text></g>
<g id="A20" class="n db"><rect x="229" y="398" width="43" height="21"/><text x="250.5" y="412.3">A20</text></g>
<g id="CYLD" class="n db"><rect x="273" y="398" width="42" height="21"/><text x="294" y="412.3">CYLD</text></g>
<g id="DUBA" class="n db"><rect x="229" y="419.5" width="43" height="21"/><text x="250.5" y="433.8">DUBA</text></g>
<g id="OTULIN" class="n db"><rect x="273" y="419.5" width="42" height="21"/><text x="294" y="433.8">OTULIN</text></g>
<g id="K_ion" class="n sm"><rect x="653" y="415" width="43" height="21"/><text x="674.5" y="429.3">K_ion</text></g>
<g id="ABIN2" class="n ot"><rect x="588" y="429" width="43" height="21"/><text x="609.5" y="443.3">ABIN2</text></g>
<g id="ABIN1" class="n ot"><rect x="355" y="440" width="42" height="21"/><text x="376" y="454.3">ABIN1</text></g>
<g id="TAB1" class="n ad"><rect x="423" y="445" width="42" height="21"/><text x="444" y="459.3">TAB1</text></g>
<g id="TAB2" class="n ad"><rect x="466" y="445" width="42" height="21"/><text x="487" y="459.3">TAB2</text></g>
<g id="TAB3" class="n ad"><rect x="509" y="445" width="42" height="21"/><text x="530" y="459.3">TAB3</text></g>
<g id="ECSIT" class="n ad"><rect x="443" y="467" width="43" height="21"/><text x="464.5" y="481.3">ECSIT</text></g>
<g id="TAK1" class="n ki"><rect x="487" y="467" width="42" height="21"/><text x="508" y="481.3">TAK1</text></g>
<g id="TPL2" class="n ki"><rect x="588" y="469" width="43" height="21"/><text x="609.5" y="483.3">TPL2</text></g>
<g id="IKIP" class="n in"><rect x="109" y="447" width="43" height="21"/><text x="130.5" y="461.3">IKIP</text></g>
<g id="IKKa" class="n ki"><rect x="170" y="469" width="42" height="21"/><text x="191" y="483.3">IKKa</text></g>
<g id="IKKb" class="n ki"><rect x="213" y="469" width="43" height="21"/><text x="234.5" y="483.3">IKKb</text></g>
<g id="NEMO" class="n ad"><rect x="299" y="465" width="42" height="21"/><text x="320" y="479.3">NEMO</text></g>
<g id="betaTrCP1" class="n e3 s"><rect x="257" y="500" width="42" height="21"/><text x="278" y="513.4">betaTrCP1</text></g>
<g id="betaTrCP2" class="n e3 s"><rect x="257" y="521" width="42" height="21"/><text x="278" y="534.4">betaTrCP2</text></g>
<g id="IkBa" class="n ad"><rect x="83" y="508" width="42" height="21"/><text x="104" y="522.3">IkBa</text></g>
<g id="IkBb" class="n ad"><rect x="126" y="508" width="42" height="21"/><text x="147" y="522.3">IkBb</text></g>
<g id="IkBe" class="n ad"><rect x="169" y="508" width="42" height="21"/><text x="190" y="522.3">IkBe</text></g>
<g id="KPC1" class="n e3"><rect x="54" y="546" width="43" height="21"/><text x="75.5" y="560.3">KPC1</text></g>
<g id="KPC2" class="n ad"><rect x="54" y="567" width="43" height="21"/><text x="75.5" y="581.3">KPC2</text></g>
<g id="p105" class="n tf"><rect x="122" y="558" width="42" height="21"/><text x="143" y="572.3">p105</text></g>
<g id="p100" class="n tf"><rect x="165" y="558" width="42" height="21"/><text x="186" y="572.3">p100</text></g>
<g id="p50" class="n tf"><rect x="121" y="600" width="42" height="21"/><text x="142" y="614.3">p50</text></g>
<g id="p52" class="n tf"><rect x="164" y="600" width="42" height="21"/><text x="185" y="614.3">p52</text></g>
<g id="RelA" class="n tf"><rect x="102" y="622" width="42" height="21"/><text x="123" y="636.3">RelA</text></g>
<g id="RelB" class="n tf"><rect x="144.5" y="622" width="42" height="21"/><text x="165.5" y="636.3">RelB</text></g>
<g id="cRel" class="n tf"><rect x="187" y="622" width="42" height="21"/><text x="208" y="636.3">cRel</text></g>
<g id="IkBn" class="n ad"><rect x="234" y="552" width="43" height="21"/><text x="255.5" y="566.3">IkBn</text></g>
<g id="IkBns" class="n ad"><rect x="277" y="552" width="42" height="21"/><text x="298" y="566.3">IkBns</text></g>
<g id="IkBz" class="n ad"><rect x="234" y="573" width="43" height="21"/><text x="255.5" y="587.3">IkBz</text></g>
<g id="BCL3" class="n ad"><rect x="277" y="573" width="42" height="21"/><text x="298" y="587.3">BCL3</text></g>

<g id="MKK1" class="n ki"><rect x="405" y="507" width="42" height="21"/><text x="426" y="521.3">MKK1</text></g>
<g id="MKK2" class="n ki"><rect x="448" y="507" width="42" height="21"/><text x="469" y="521.3">MKK2</text></g>
<g id="MKK3" class="n ki"><rect x="491" y="507" width="42" height="21"/><text x="512" y="521.3">MKK3</text></g>
<g id="MKK4" class="n ki"><rect x="534" y="507" width="42" height="21"/><text x="555" y="521.3">MKK4</text></g>
<g id="MKK6" class="n ki"><rect x="577" y="507" width="42" height="21"/><text x="598" y="521.3">MKK6</text></g>
<g id="MKK7" class="n ki"><rect x="620" y="507" width="42" height="21"/><text x="641" y="521.3">MKK7</text></g>
<g id="ERK1" class="n ki"><rect x="347" y="547" width="42" height="21"/><text x="368" y="561.3">ERK1</text></g>
<g id="ERK2" class="n ki"><rect x="390" y="547" width="42" height="21"/><text x="411" y="561.3">ERK2</text></g>
<g id="p38a" class="n ki"><rect x="433" y="547" width="42" height="21"/><text x="454" y="561.3">p38a</text></g>
<g id="p38b" class="n ki"><rect x="475.5" y="547" width="42" height="21"/><text x="496.5" y="561.3">p38b</text></g>
<g id="p38g" class="n ki"><rect x="518" y="547" width="42" height="21"/><text x="539" y="561.3">p38g</text></g>
<g id="p38d" class="n ki"><rect x="561" y="547" width="42" height="21"/><text x="582" y="561.3">p38d</text></g>
<g id="JNK1" class="n ki"><rect x="604" y="547" width="42" height="21"/><text x="625" y="561.3">JNK1</text></g>
<g id="JNK2" class="n ki"><rect x="647" y="547" width="42" height="21"/><text x="668" y="561.3">JNK2</text></g>
<g id="JNK3" class="n ki"><rect x="690" y="547" width="42" height="21"/><text x="711" y="561.3">JNK3</text></g>
<g id="MSK1" class="n ki"><rect x="415" y="586" width="42" height="21"/><text x="436" y="600.3">MSK1</text></g>
<g id="MSK2" class="n ki"><rect x="458" y="586" width="42" height="21"/><text x="479" y="600.3">MSK2</text></g>
<g id="MNK1" class="n ki"><rect x="501" y="586" width="42" height="21"/><text x="522" y="600.3">MNK1</text></g>
<g id="MNK2" class="n ki"><rect x="544" y="586" width="42" height="21"/><text x="565" y="600.3">MNK2</text></g>
<g id="MK2" class="n ki"><rect x="587" y="586" width="42" height="21"/><text x="608" y="600.3">MK2</text></g>
<g id="MK3" class="n ki"><rect x="629.5" y="586" width="42" height="21"/><text x="650.5" y="600.3">MK3</text></g>

<g id="ATF1" class="n tf"><rect x="250" y="619" width="42" height="21"/><text x="271" y="633.3">ATF1</text></g>
<g id="ATF2" class="n tf"><rect x="293" y="619" width="42" height="21"/><text x="314" y="633.3">ATF2</text></g>
<g id="ATF4" class="n tf"><rect x="336" y="619" width="42" height="21"/><text x="357" y="633.3">ATF4</text></g>
<g id="CEBPA" class="n tf"><rect x="379" y="619" width="42" height="21"/><text x="400" y="633.3">CEBPA</text></g>
<g id="CEBPB" class="n tf"><rect x="422" y="619" width="42" height="21"/><text x="443" y="633.3">CEBPB</text></g>
<g id="CEBPE" class="n tf"><rect x="465" y="619" width="42" height="21"/><text x="486" y="633.3">CEBPE</text></g>
<g id="CHOP" class="n tf"><rect x="507.5" y="619" width="42" height="21"/><text x="528.5" y="633.3">CHOP</text></g>
<g id="CREB1" class="n tf"><rect x="550.5" y="619" width="42" height="21"/><text x="571.5" y="633.3">CREB1</text></g>
<g id="ELF4" class="n tf"><rect x="593.5" y="619" width="42" height="21"/><text x="614.5" y="633.3">ELF4</text></g>
<g id="ELK1" class="n tf"><rect x="636.5" y="619" width="42" height="21"/><text x="657.5" y="633.3">ELK1</text></g>
<g id="ELK4" class="n tf"><rect x="679" y="619" width="42" height="21"/><text x="700" y="633.3">ELK4</text></g>
<g id="FOS" class="n tf"><rect x="722" y="619" width="42" height="21"/><text x="743" y="633.3">FOS</text></g>
<g id="FOSL1" class="n tf"><rect x="250" y="640.5" width="42" height="21"/><text x="271" y="654.8">FOSL1</text></g>
<g id="FOSL2" class="n tf"><rect x="293" y="640.5" width="42" height="21"/><text x="314" y="654.8">FOSL2</text></g>
<g id="FOXO3" class="n tf"><rect x="336" y="640.5" width="42" height="21"/><text x="357" y="654.8">FOXO3</text></g>
<g id="FOXO4" class="n tf"><rect x="379" y="640.5" width="42" height="21"/><text x="400" y="654.8">FOXO4</text></g>
<g id="HIF1A" class="n tf"><rect x="422" y="640.5" width="42" height="21"/><text x="443" y="654.8">HIF1A</text></g>
<g id="IRF3" class="n tf"><rect x="465" y="640.5" width="42" height="21"/><text x="486" y="654.8">IRF3</text></g>
<g id="IRF5" class="n tf"><rect x="507.5" y="640.5" width="42" height="21"/><text x="528.5" y="654.8">IRF5</text></g>
<g id="IRF7" class="n tf"><rect x="550.5" y="640.5" width="42" height="21"/><text x="571.5" y="654.8">IRF7</text></g>
<g id="IRF9" class="n tf"><rect x="593.5" y="640.5" width="42" height="21"/><text x="614.5" y="654.8">IRF9</text></g>
<g id="JUN" class="n tf"><rect x="636.5" y="640.5" width="42" height="21"/><text x="657.5" y="654.8">JUN</text></g>
<g id="JUNB" class="n tf"><rect x="679" y="640.5" width="42" height="21"/><text x="700" y="654.8">JUNB</text></g>
<g id="JUND" class="n tf"><rect x="722" y="640.5" width="42" height="21"/><text x="743" y="654.8">JUND</text></g>
<g id="MITF" class="n tf"><rect x="250" y="662" width="42" height="21"/><text x="271" y="676.3">MITF</text></g>
<g id="MYC" class="n tf"><rect x="293" y="662" width="42" height="21"/><text x="314" y="676.3">MYC</text></g>
<g id="NFATc1" class="n tf"><rect x="336" y="662" width="42" height="21"/><text x="357" y="676.3">NFATc1</text></g>
<g id="NFATc2" class="n tf"><rect x="379" y="662" width="42" height="21"/><text x="400" y="676.3">NFATc2</text></g>
<g id="SMAD2" class="n tf"><rect x="422" y="662" width="42" height="21"/><text x="443" y="676.3">SMAD2</text></g>
<g id="SMAD3" class="n tf"><rect x="465" y="662" width="42" height="21"/><text x="486" y="676.3">SMAD3</text></g>
<g id="SP1" class="n tf"><rect x="507.5" y="662" width="42" height="21"/><text x="528.5" y="676.3">SP1</text></g>
<g id="SRF" class="n tf"><rect x="550.5" y="662" width="42" height="21"/><text x="571.5" y="676.3">SRF</text></g>
<g id="STAT1" class="n tf"><rect x="593.5" y="662" width="42" height="21"/><text x="614.5" y="676.3">STAT1</text></g>
<g id="STAT2" class="n tf"><rect x="636.5" y="662" width="42" height="21"/><text x="657.5" y="676.3">STAT2</text></g>
<g id="STAT3" class="n tf"><rect x="679" y="662" width="42" height="21"/><text x="700" y="676.3">STAT3</text></g>

<g id="CCL1" class="n cy"><rect x="67" y="706" width="42" height="21"/><text x="88" y="720.3">CCL1</text></g>
<g id="CCL2" class="n cy"><rect x="110" y="706" width="42" height="21"/><text x="131" y="720.3">CCL2</text></g>
<g id="CCL3" class="n cy"><rect x="153" y="706" width="42" height="21"/><text x="174" y="720.3">CCL3</text></g>
<g id="CCL4" class="n cy"><rect x="196" y="706" width="42" height="21"/><text x="217" y="720.3">CCL4</text></g>
<g id="CCL5" class="n cy"><rect x="239" y="706" width="42" height="21"/><text x="260" y="720.3">CCL5</text></g>
<g id="CCL7" class="n cy"><rect x="282" y="706" width="42" height="21"/><text x="303" y="720.3">CCL7</text></g>
<g id="CCL8" class="n cy"><rect x="324" y="706" width="42" height="21"/><text x="345" y="720.3">CCL8</text></g>
<g id="CCL9" class="n cy"><rect x="367" y="706" width="42" height="21"/><text x="388" y="720.3">CCL9</text></g>
<g id="CCL11" class="n cy"><rect x="410" y="706" width="42" height="21"/><text x="431" y="720.3">CCL11</text></g>
<g id="CCL12" class="n cy"><rect x="453" y="706" width="42" height="21"/><text x="474" y="720.3">CCL12</text></g>
<g id="CCL13" class="n cy"><rect x="496" y="706" width="42" height="21"/><text x="517" y="720.3">CCL13</text></g>
<g id="CCL15" class="n cy"><rect x="539" y="706" width="42" height="21"/><text x="560" y="720.3">CCL15</text></g>
<g id="CCL17" class="n cy"><rect x="582" y="706" width="42" height="21"/><text x="603" y="720.3">CCL17</text></g>
<g id="CCL18" class="n cy"><rect x="625" y="706" width="42" height="21"/><text x="646" y="720.3">CCL18</text></g>
<g id="CCL19" class="n cy"><rect x="668" y="706" width="42" height="21"/><text x="689" y="720.3">CCL19</text></g>
<g id="CCL20" class="n cy"><rect x="711" y="706" width="42" height="21"/><text x="732" y="720.3">CCL20</text></g>
<g id="CCL21a" class="n cy"><rect x="753" y="706" width="42" height="21"/><text x="774" y="720.3">CCL21a</text></g>
<g id="CCL21b" class="n cy"><rect x="67" y="727.4" width="42" height="21"/><text x="88" y="741.7">CCL21b</text></g>
<g id="CCL21c" class="n cy"><rect x="110" y="727.4" width="42" height="21"/><text x="131" y="741.7">CCL21c</text></g>
<g id="CCL22" class="n cy"><rect x="153" y="727.4" width="42" height="21"/><text x="174" y="741.7">CCL22</text></g>
<g id="CSF1" class="n cy"><rect x="196" y="727.4" width="42" height="21"/><text x="217" y="741.7">CSF1</text></g>
<g id="CSF2" class="n cy"><rect x="239" y="727.4" width="42" height="21"/><text x="260" y="741.7">CSF2</text></g>
<g id="CSF3" class="n cy"><rect x="282" y="727.4" width="42" height="21"/><text x="303" y="741.7">CSF3</text></g>
<g id="CX3CL1" class="n cy"><rect x="324" y="727.4" width="42" height="21"/><text x="345" y="741.7">CX3CL1</text></g>
<g id="CXCL1" class="n cy"><rect x="367" y="727.4" width="42" height="21"/><text x="388" y="741.7">CXCL1</text></g>
<g id="CXCL2" class="n cy"><rect x="410" y="727.4" width="42" height="21"/><text x="431" y="741.7">CXCL2</text></g>
<g id="CXCL3" class="n cy"><rect x="453" y="727.4" width="42" height="21"/><text x="474" y="741.7">CXCL3</text></g>
<g id="CXCL5" class="n cy"><rect x="496" y="727.4" width="42" height="21"/><text x="517" y="741.7">CXCL5</text></g>
<g id="CXCL6" class="n cy"><rect x="539" y="727.4" width="42" height="21"/><text x="560" y="741.7">CXCL6</text></g>
<g id="CXCL8" class="n cy"><rect x="582" y="727.4" width="42" height="21"/><text x="603" y="741.7">CXCL8</text></g>
<g id="CXCL9" class="n cy"><rect x="625" y="727.4" width="42" height="21"/><text x="646" y="741.7">CXCL9</text></g>
<g id="CXCL10" class="n cy"><rect x="668" y="727.4" width="42" height="21"/><text x="689" y="741.7">CXCL10</text></g>
<g id="CXCL11" class="n cy"><rect x="711" y="727.4" width="42" height="21"/><text x="732" y="741.7">CXCL11</text></g>
<g id="CXCL12" class="n cy"><rect x="753" y="727.4" width="42" height="21"/><text x="774" y="741.7">CXCL12</text></g>
<g id="CXCL13" class="n cy"><rect x="67" y="748.8" width="42" height="21"/><text x="88" y="763.1">CXCL13</text></g>
<g id="CXCL14" class="n cy"><rect x="110" y="748.8" width="42" height="21"/><text x="131" y="763.1">CXCL14</text></g>
<g id="EBI3" class="n cy"><rect x="153" y="748.8" width="42" height="21"/><text x="174" y="763.1">EBI3</text></g>
<g id="FASLG" class="n cy"><rect x="196" y="748.8" width="42" height="21"/><text x="217" y="763.1">FASLG</text></g>
<g id="IL1A" class="n cy"><rect x="239" y="748.8" width="42" height="21"/><text x="260" y="763.1">IL1A</text></g>
<g id="IL1B" class="n cy"><rect x="282" y="748.8" width="42" height="21"/><text x="303" y="763.1">IL1B</text></g>
<g id="IL1RN" class="n cy"><rect x="324" y="748.8" width="42" height="21"/><text x="345" y="763.1">IL1RN</text></g>
<g id="IL2" class="n cy"><rect x="367" y="748.8" width="42" height="21"/><text x="388" y="763.1">IL2</text></g>
<g id="IL3" class="n cy"><rect x="410" y="748.8" width="42" height="21"/><text x="431" y="763.1">IL3</text></g>
<g id="IL4" class="n cy"><rect x="453" y="748.8" width="42" height="21"/><text x="474" y="763.1">IL4</text></g>
<g id="IL5" class="n cy"><rect x="496" y="748.8" width="42" height="21"/><text x="517" y="763.1">IL5</text></g>
<g id="IL6" class="n cy"><rect x="539" y="748.8" width="42" height="21"/><text x="560" y="763.1">IL6</text></g>
<g id="IL9" class="n cy"><rect x="582" y="748.8" width="42" height="21"/><text x="603" y="763.1">IL9</text></g>
<g id="IL10" class="n cy"><rect x="625" y="748.8" width="42" height="21"/><text x="646" y="763.1">IL10</text></g>
<g id="IL11" class="n cy"><rect x="668" y="748.8" width="42" height="21"/><text x="689" y="763.1">IL11</text></g>
<g id="IL12A" class="n cy"><rect x="711" y="748.8" width="42" height="21"/><text x="732" y="763.1">IL12A</text></g>
<g id="IL12B" class="n cy"><rect x="753" y="748.8" width="42" height="21"/><text x="774" y="763.1">IL12B</text></g>
<g id="IL13" class="n cy"><rect x="67" y="770.2" width="42" height="21"/><text x="88" y="784.5">IL13</text></g>
<g id="IL15" class="n cy"><rect x="110" y="770.2" width="42" height="21"/><text x="131" y="784.5">IL15</text></g>
<g id="IL17A" class="n cy"><rect x="153" y="770.2" width="42" height="21"/><text x="174" y="784.5">IL17A</text></g>
<g id="IL17C" class="n cy"><rect x="196" y="770.2" width="42" height="21"/><text x="217" y="784.5">IL17C</text></g>
<g id="IL17F" class="n cy"><rect x="239" y="770.2" width="42" height="21"/><text x="260" y="784.5">IL17F</text></g>
<g id="IL18" class="n cy"><rect x="282" y="770.2" width="42" height="21"/><text x="303" y="784.5">IL18</text></g>
<g id="IL19" class="n cy"><rect x="324" y="770.2" width="42" height="21"/><text x="345" y="784.5">IL19</text></g>
<g id="IL20" class="n cy"><rect x="367" y="770.2" width="42" height="21"/><text x="388" y="784.5">IL20</text></g>
<g id="IL21" class="n cy"><rect x="410" y="770.2" width="42" height="21"/><text x="431" y="784.5">IL21</text></g>
<g id="IL22" class="n cy"><rect x="453" y="770.2" width="42" height="21"/><text x="474" y="784.5">IL22</text></g>
<g id="IL23A" class="n cy"><rect x="496" y="770.2" width="42" height="21"/><text x="517" y="784.5">IL23A</text></g>
<g id="IL24" class="n cy"><rect x="539" y="770.2" width="42" height="21"/><text x="560" y="784.5">IL24</text></g>
<g id="IL27" class="n cy"><rect x="582" y="770.2" width="42" height="21"/><text x="603" y="784.5">IL27</text></g>
<g id="IL31" class="n cy"><rect x="625" y="770.2" width="42" height="21"/><text x="646" y="784.5">IL31</text></g>
<g id="IL32" class="n cy"><rect x="668" y="770.2" width="42" height="21"/><text x="689" y="784.5">IL32</text></g>
<g id="IL36A" class="n cy"><rect x="711" y="770.2" width="42" height="21"/><text x="732" y="784.5">IL36A</text></g>
<g id="KITLG" class="n cy"><rect x="753" y="770.2" width="42" height="21"/><text x="774" y="784.5">KITLG</text></g>
<g id="LIF" class="n cy"><rect x="67" y="791.6" width="42" height="21"/><text x="88" y="805.9">LIF</text></g>
<g id="LTA" class="n cy"><rect x="110" y="791.6" width="42" height="21"/><text x="131" y="805.9">LTA</text></g>
<g id="LTB" class="n cy"><rect x="153" y="791.6" width="42" height="21"/><text x="174" y="805.9">LTB</text></g>
<g id="OSM" class="n cy"><rect x="196" y="791.6" width="42" height="21"/><text x="217" y="805.9">OSM</text></g>
<g id="TGFB1" class="n cy"><rect x="239" y="791.6" width="42" height="21"/><text x="260" y="805.9">TGFB1</text></g>
<g id="TGFB2" class="n cy"><rect x="282" y="791.6" width="42" height="21"/><text x="303" y="805.9">TGFB2</text></g>
<g id="TGFB3" class="n cy"><rect x="324" y="791.6" width="42" height="21"/><text x="345" y="805.9">TGFB3</text></g>
<g id="TNF" class="n cy"><rect x="367" y="791.6" width="42" height="21"/><text x="388" y="805.9">TNF</text></g>
<g id="TNFSF10" class="n cy m"><rect x="410" y="791.6" width="42" height="21"/><text x="431" y="805.6">TNFSF10</text></g>
<g id="TNFSF11" class="n cy m"><rect x="453" y="791.6" width="42" height="21"/><text x="474" y="805.6">TNFSF11</text></g>
<g id="TNFSF13B" class="n cy s"><rect x="496" y="791.6" width="42" height="21"/><text x="517" y="805">TNFSF13B</text></g>
<g id="TNFSF14" class="n cy m"><rect x="539" y="791.6" width="42" height="21"/><text x="560" y="805.6">TNFSF14</text></g>
<g id="TNFSF15" class="n cy m"><rect x="582" y="791.6" width="42" height="21"/><text x="603" y="805.6">TNFSF15</text></g>
<g id="TNFSF8" class="n cy m"><rect x="625" y="791.6" width="42" height="21"/><text x="646" y="805.6">TNFSF8</text></g>
<g id="XCL1" class="n cy"><rect x="668" y="791.6" width="42" height="21"/><text x="689" y="805.9">XCL1</text></g>

<g id="IFNA1" class="n cy"><rect x="817" y="636" width="42" height="21"/><text x="838" y="650.3">IFNA1</text></g>
<g id="IFNA2" class="n cy"><rect x="860" y="636" width="42" height="21"/><text x="881" y="650.3">IFNA2</text></g>
<g id="IFNA4" class="n cy"><rect x="903" y="636" width="42" height="21"/><text x="924" y="650.3">IFNA4</text></g>
<g id="IFNA5" class="n cy"><rect x="946" y="636" width="42" height="21"/><text x="967" y="650.3">IFNA5</text></g>
<g id="IFNA6" class="n cy"><rect x="989" y="636" width="42" height="21"/><text x="1010" y="650.3">IFNA6</text></g>
<g id="IFNA7" class="n cy"><rect x="1031.5" y="636" width="42" height="21"/><text x="1052.5" y="650.3">IFNA7</text></g>
<g id="IFNA8" class="n cy"><rect x="1074.5" y="636" width="42" height="21"/><text x="1095.5" y="650.3">IFNA8</text></g>
<g id="IFNA9" class="n cy"><rect x="817" y="657.5" width="42" height="21"/><text x="838" y="671.8">IFNA9</text></g>
<g id="IFNA10" class="n cy"><rect x="860" y="657.5" width="42" height="21"/><text x="881" y="671.8">IFNA10</text></g>
<g id="IFNA11" class="n cy"><rect x="903" y="657.5" width="42" height="21"/><text x="924" y="671.8">IFNA11</text></g>
<g id="IFNA12" class="n cy"><rect x="946" y="657.5" width="42" height="21"/><text x="967" y="671.8">IFNA12</text></g>
<g id="IFNA13" class="n cy"><rect x="989" y="657.5" width="42" height="21"/><text x="1010" y="671.8">IFNA13</text></g>
<g id="IFNA14" class="n cy"><rect x="1031.5" y="657.5" width="42" height="21"/><text x="1052.5" y="671.8">IFNA14</text></g>
<g id="IFNA15" class="n cy"><rect x="1074.5" y="657.5" width="42" height="21"/><text x="1095.5" y="671.8">IFNA15</text></g>
<g id="IFNA16" class="n cy"><rect x="817" y="679" width="42" height="21"/><text x="838" y="693.3">IFNA16</text></g>
<g id="IFNA17" class="n cy"><rect x="860" y="679" width="42" height="21"/><text x="881" y="693.3">IFNA17</text></g>
<g id="IFNA21" class="n cy"><rect x="903" y="679" width="42" height="21"/><text x="924" y="693.3">IFNA21</text></g>
<g id="IFNAB" class="n cy"><rect x="946" y="679" width="42" height="21"/><text x="967" y="693.3">IFNAB</text></g>
<g id="IFNB1" class="n cy"><rect x="989" y="679" width="42" height="21"/><text x="1010" y="693.3">IFNB1</text></g>
<g id="IFNE" class="n cy"><rect x="1031.5" y="679" width="42" height="21"/><text x="1052.5" y="693.3">IFNE</text></g>
<g id="IFNG" class="n cy"><rect x="1074.5" y="679" width="42" height="21"/><text x="1095.5" y="693.3">IFNG</text></g>
<g id="IFNK" class="n cy"><rect x="817" y="700.5" width="42" height="21"/><text x="838" y="714.8">IFNK</text></g>
<g id="IFNL1" class="n cy"><rect x="860" y="700.5" width="42" height="21"/><text x="881" y="714.8">IFNL1</text></g>
<g id="IFNL2" class="n cy"><rect x="903" y="700.5" width="42" height="21"/><text x="924" y="714.8">IFNL2</text></g>
<g id="IFNL3" class="n cy"><rect x="946" y="700.5" width="42" height="21"/><text x="967" y="714.8">IFNL3</text></g>
<g id="IFNL4" class="n cy"><rect x="989" y="700.5" width="42" height="21"/><text x="1010" y="714.8">IFNL4</text></g>
<g id="IFNW1" class="n cy"><rect x="1031.5" y="700.5" width="42" height="21"/><text x="1052.5" y="714.8">IFNW1</text></g>
<g id="IFNZ" class="n cy"><rect x="1074.5" y="700.5" width="42" height="21"/><text x="1095.5" y="714.8">IFNZ</text></g>

<g id="IFNAR1" class="n rc"><rect x="829" y="737" width="42" height="21"/><text x="850" y="751.3">IFNAR1</text></g>
<g id="IFNAR2" class="n rc"><rect x="872" y="737" width="42" height="21"/><text x="893" y="751.3">IFNAR2</text></g>
<g id="IFNGR1" class="n rc"><rect x="927" y="737" width="42" height="21"/><text x="948" y="751.3">IFNGR1</text></g>
<g id="IFNGR2" class="n rc"><rect x="969.5" y="737" width="42" height="21"/><text x="990.5" y="751.3">IFNGR2</text></g>
<g id="IFNLR1" class="n rc"><rect x="1023" y="737" width="42" height="21"/><text x="1044" y="751.3">IFNLR1</text></g>
<g id="IL10RB" class="n rc"><rect x="1066" y="737" width="42" height="21"/><text x="1087" y="751.3">IL10RB</text></g>
<g id="TYK2" class="n ki"><rect x="879" y="774" width="42" height="21"/><text x="900" y="788.3">TYK2</text></g>
<g id="JAK1" class="n ki"><rect x="948" y="774" width="42" height="21"/><text x="969" y="788.3">JAK1</text></g>
<g id="JAK2" class="n ki"><rect x="1017" y="774" width="42" height="21"/><text x="1038" y="788.3">JAK2</text></g>

<g id="Proteasome" class="n pr s"><rect x="801" y="582" width="47" height="21"/><text x="824.5" y="595.4">Proteasome</text></g>
<g id="ASC" class="n ad"><rect x="939" y="546" width="42" height="21"/><text x="960" y="560.3">ASC</text></g>
<g id="CASP1" class="n pr"><rect x="939" y="583" width="42" height="21"/><text x="960" y="597.3">CASP1</text></g>
<g id="NLRC4" class="n ad"><rect x="939" y="508" width="42" height="21"/><text x="960" y="522.3">NLRC4</text></g>

<g id="dsRNA_S_5pp" class="n li s"><rect x="895" y="163" width="67" height="21"/><text x="928.5" y="176.4">dsRNA_S_5pp</text></g>
<g id="dsRNA_S_5ppp" class="n li s"><rect x="892" y="184.5" width="64" height="21"/><text x="924" y="197.9">dsRNA_S_5ppp</text></g>
<g id="dsRNA_S_AU_5ppp" class="n li s"><rect x="884" y="206" width="80" height="21"/><text x="924" y="219.4">dsRNA_S_AU_5ppp</text></g>
<g id="ssRNA_S_UUC_5ppp" class="n li s"><rect x="881" y="227.5" width="86" height="21"/><text x="924" y="240.9">ssRNA_S_UUC_5ppp</text></g>
<g id="dsRNA_L" class="n li m"><rect x="813" y="227" width="43" height="21"/><text x="834.5" y="241">dsRNA_L</text></g>
<g id="cdAMP" class="n li"><rect x="996" y="184" width="43" height="21"/><text x="1017.5" y="198.3">cdAMP</text></g>
<g id="cdGMP" class="n li"><rect x="996" y="205.5" width="43" height="21"/><text x="1017.5" y="219.8">cdGMP</text></g>
<g id="cGAMP_33" class="n li s"><rect x="994" y="227" width="47" height="21"/><text x="1017.5" y="240.4">cGAMP_33</text></g>
<g id="dsDNA" class="n li"><rect x="1116" y="227" width="42" height="21"/><text x="1137" y="241.3">dsDNA</text></g>
<g id="MDA5" class="n rc"><rect x="813" y="275" width="43" height="21"/><text x="834.5" y="289.3">MDA5</text></g>
<g id="RIG-I" class="n rc"><rect x="903" y="275" width="43" height="21"/><text x="924.5" y="289.3">RIG-I</text></g>
<g id="STING" class="n rc"><rect x="996" y="275" width="43" height="21"/><text x="1017.5" y="289.3">STING</text></g>
<g id="cGAMP" class="n sm"><rect x="1056" y="275" width="42" height="21"/><text x="1077" y="289.3">cGAMP</text></g>
<g id="cGAS" class="n rc"><rect x="1116" y="275" width="42" height="21"/><text x="1137" y="289.3">cGAS</text></g>
<g id="MAVS" class="n ad"><rect x="858" y="303" width="43" height="21"/><text x="879.5" y="317.3">MAVS</text></g>
<g id="TRAF2" class="n e3"><rect x="835" y="333" width="42" height="21"/><text x="856" y="347.3">TRAF2</text></g>
<g id="TRAF5" class="n e3"><rect x="881" y="333" width="42" height="21"/><text x="902" y="347.3">TRAF5</text></g>
<g id="MEX3C" class="n e3"><rect x="963" y="314" width="42" height="21"/><text x="984" y="328.3">MEX3C</text></g>
<g id="MUL1" class="n e3"><rect x="1006" y="314" width="42" height="21"/><text x="1027" y="328.3">MUL1</text></g>
<g id="RIPLET" class="n e3"><rect x="1049" y="314" width="42" height="21"/><text x="1070" y="328.3">RIPLET</text></g>
<g id="TRIM4" class="n e3"><rect x="1092" y="314" width="42" height="21"/><text x="1113" y="328.3">TRIM4</text></g>
<g id="TRIM25" class="n e3"><rect x="941" y="335" width="43" height="21"/><text x="962.5" y="349.3">TRIM25</text></g>
<g id="TRIM31" class="n e3"><rect x="985" y="335" width="42" height="21"/><text x="1006" y="349.3">TRIM31</text></g>
<g id="TRIM32" class="n e3"><rect x="1027.5" y="335" width="42" height="21"/><text x="1048.5" y="349.3">TRIM32</text></g>
<g id="TRIM56" class="n e3"><rect x="1070" y="335" width="42" height="21"/><text x="1091" y="349.3">TRIM56</text></g>
<g id="TRIM65" class="n e3"><rect x="1113" y="335" width="42" height="21"/><text x="1134" y="349.3">TRIM65</text></g>
<g id="AIM2" class="n rc"><rect x="751" y="416" width="42" height="21"/><text x="772" y="430.3">AIM2</text></g>
<g id="DHX9" class="n rc"><rect x="806" y="416" width="42" height="21"/><text x="827" y="430.3">DHX9</text></g>
<g id="CASP5" class="n pr"><rect x="751" y="449" width="42" height="21"/><text x="772" y="463.3">CASP5</text></g>
<g id="CASP4" class="n pr"><rect x="751" y="481" width="42" height="21"/><text x="772" y="495.3">CASP4</text></g>
<g id="NLRP7" class="n rc"><rect x="751" y="513" width="42" height="21"/><text x="772" y="527.3">NLRP7</text></g>
<g id="NLRP9b" class="n rc"><rect x="806" y="497" width="42" height="21"/><text x="827" y="511.3">NLRP9b</text></g>
<g id="T3SS_Needle" class="n li s"><rect x="866" y="416" width="53" height="21"/><text x="892.5" y="429.4">T3SS_Needle</text></g>
<g id="T3SS_Rod" class="n li s"><rect x="938" y="416" width="43" height="21"/><text x="959.5" y="429.4">T3SS_Rod</text></g>
<g id="FlaA" class="n li"><rect x="1003" y="416" width="42" height="21"/><text x="1024" y="430.3">FlaA</text></g>
<g id="Anthrax_LF" class="n li s"><rect x="1071" y="416" width="47" height="21"/><text x="1094.5" y="429.4">Anthrax_LF</text></g>
<g id="LiTA" class="n li"><rect x="1127" y="416" width="42" height="21"/><text x="1148" y="430.3">LiTA</text></g>
<g id="NAIP" class="n rc"><rect x="853" y="462" width="42" height="21"/><text x="874" y="476.3">NAIP</text></g>
<g id="NAIP1" class="n rc"><rect x="896" y="462" width="42" height="21"/><text x="917" y="476.3">NAIP1</text></g>
<g id="NAIP2" class="n rc"><rect x="939" y="462" width="42" height="21"/><text x="960" y="476.3">NAIP2</text></g>
<g id="NAIP5" class="n rc"><rect x="982" y="462" width="42" height="21"/><text x="1003" y="476.3">NAIP5</text></g>
<g id="NAIP6" class="n rc"><rect x="1025" y="462" width="42" height="21"/><text x="1046" y="476.3">NAIP6</text></g>
<g id="NLRP1b" class="n rc"><rect x="1073" y="497" width="43" height="21"/><text x="1094.5" y="511.3">NLRP1b</text></g>
<g id="NLRP6" class="n rc"><rect x="1127" y="497" width="42" height="21"/><text x="1148" y="511.3">NLRP6</text></g>
</g>

<g id="legend" class="lg">
<rect x="1196" y="216.5" width="10.5" height="10.5" fill="#FFFF00"/><text x="1215" y="227">Adapter</text>
<rect x="1196" y="238.4" width="10.5" height="10.5" fill="#F08080"/><text x="1215" y="248.9">Cytokine</text>
<rect x="1196" y="260.3" width="10.5" height="10.5" fill="#009F8F"/><text x="1215" y="270.8">Deubiquitinase</text>
<rect x="1196" y="282.2" width="10.5" height="10.5" fill="#99EE99"/><text x="1215" y="292.7">E2 Ub Ligase</text>
<rect x="1196" y="304.1" width="10.5" height="10.5" fill="#00CC00"/><text x="1215" y="314.6">E3 Ub Ligase</text>
<rect x="1196" y="326" width="10.5" height="10.5" fill="#6495ED"/><text x="1215" y="336.5">Inhibitor</text>
<rect x="1196" y="347.9" width="10.5" height="10.5" fill="#FF0000"/><text x="1215" y="358.4">Kinase</text>
<rect x="1196" y="369.8" width="10.5" height="10.5" fill="#FFFFFF"/><text x="1215" y="380.3">Ligand</text>
<rect x="1196" y="391.7" width="10.5" height="10.5" fill="#C8C8C8"/><text x="1215" y="402.2">Other</text>
<rect x="1196" y="413.6" width="10.5" height="10.5" fill="#CC9910"/><text x="1215" y="424.1">Pore</text>
<rect x="1196" y="435.5" width="10.5" height="10.5" fill="#FF00FF"/><text x="1215" y="446">Protease, Autophagy</text>
<rect x="1196" y="457.4" width="10.5" height="10.5" fill="#00FFFF"/><text x="1215" y="467.9">Receptor</text>
<rect x="1196" y="479.3" width="10.5" height="10.5" fill="#CCCCFF"/><text x="1215" y="489.8">Small Molecule</text>
<rect x="1196" y="501.2" width="10.5" height="10.5" fill="#FF9900"/><text x="1215" y="511.7">Transcription Factor</text>
<path d="M1196 530 H1222" stroke="#22C4C4" stroke-width="1.5" marker-end="url(#ma)"/><text x="1234" y="535">Activation</text>
<path d="M1196 549.5 H1222" stroke="#22EE22" stroke-width="1.5" marker-end="url(#ms)"/><text x="1234" y="554.5">Synthesis</text>
<path d="M1196 569 H1222" stroke="#FF2A2A" stroke-width="1.5" marker-end="url(#mi)"/><text x="1234" y="574">Inhibition</text>
<path d="M1196 588.5 H1222" stroke="#7070FF" stroke-width="1.5" marker-end="url(#md)"/><text x="1234" y="593.5">Degradation</text>
<path d="M1196 608 H1222" stroke="#FFB3FF" stroke-width="1.5" marker-end="url(#mg)"/><text x="1234" y="613">Gene Expression</text>
</g>
</svg>
